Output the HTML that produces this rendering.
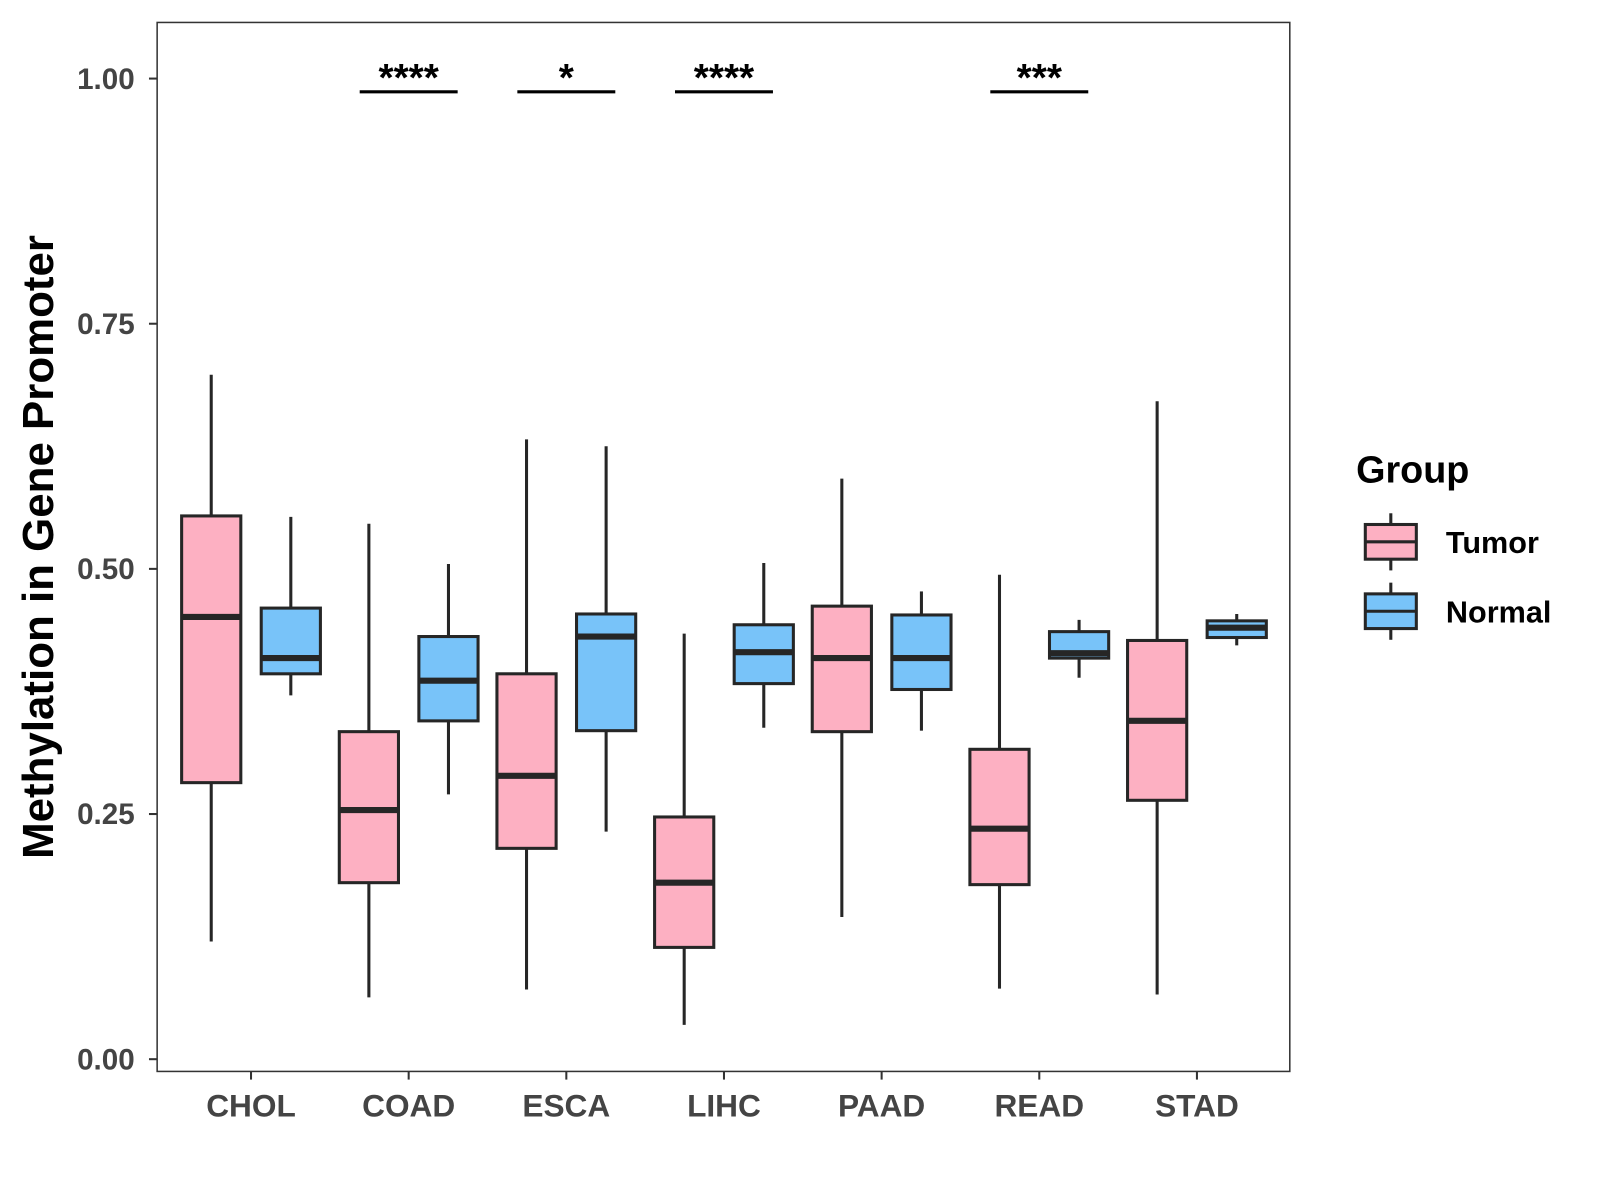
<!DOCTYPE html>
<html><head><meta charset="utf-8"><style>
html,body{margin:0;padding:0;background:#fff;}
svg{display:block;font-family:"Liberation Sans",Arial,sans-serif;}
</style></head><body>
<svg id="chart" width="1600" height="1200" viewBox="0 0 1568 1176" xmlns="http://www.w3.org/2000/svg">
<rect x="0" y="0" width="1568" height="1176" fill="#fff"/>
<g id="plot"></g>
</svg>
<script>
const categories = ["CHOL","COAD","ESCA","LIHC","PAAD","READ","STAD"];
// [min, q1, median, q3, max]
const tumorStats = [
 [0.12,0.282,0.451,0.554,0.698],
 [0.063,0.18,0.254,0.334,0.546],
 [0.071,0.215,0.289,0.393,0.632],
 [0.035,0.114,0.18,0.247,0.434],
 [0.145,0.334,0.409,0.462,0.592],
 [0.072,0.178,0.235,0.316,0.494],
 [0.066,0.264,0.345,0.427,0.671]
];
const normalStats = [
 [0.371,0.393,0.409,0.46,0.553],
 [0.27,0.345,0.386,0.431,0.505],
 [0.232,0.335,0.431,0.454,0.625],
 [0.338,0.383,0.415,0.443,0.506],
 [0.335,0.377,0.409,0.453,0.477],
 [0.389,0.409,0.414,0.436,0.448],
 [0.422,0.43,0.44,0.447,0.454]
];
const yTicks = [0,0.25,0.5,0.75,1.0];
const yTickLabels = ["0.00","0.25","0.50","0.75","1.00"];
const sigCategories = ["COAD","ESCA","LIHC","READ"];
const sigLabels = ["****","*","****","***"];

const NS="http://www.w3.org/2000/svg";
const g=document.getElementById('plot');
const L=154,R=1264,T=22,B=1050;
function yS(v){return 1038-v*961;}
function xS(i){return 246+i*154.5;}
function mk(tag,attrs,parent){const e=document.createElementNS(NS,tag);for(const k in attrs)e.setAttribute(k,attrs[k]);(parent||g).appendChild(e);return e;}

const frame=mk('rect',{x:L,y:T,width:R-L,height:B-T,fill:'none',stroke:'#333',"stroke-width":1.5});



yTicks.forEach((v,i)=>{
  const t=mk('line',{x1:L-8,x2:L,y1:yS(v),y2:yS(v),stroke:'#333',"stroke-width":2});
  
  
  const tx=mk('text',{x:L-22,y:yS(v)+10,"text-anchor":'end',"font-size":29,"font-weight":'bold',fill:'#444'});
  tx.textContent=yTickLabels[i];
  
  
});
categories.forEach((c,i)=>{
  const t=mk('line',{x1:xS(i),x2:xS(i),y1:B,y2:B+8,stroke:'#333',"stroke-width":2});
  
  
  const tx=mk('text',{x:xS(i),y:B+44,"text-anchor":'middle',"font-size":31,"font-weight":'bold',fill:'#444'});
  tx.textContent=c;
  
  
});

function box(cx,s,fill,name){
  const gg=mk('g',{});
  
  
  const hw=29;
  mk('line',{x1:cx,x2:cx,y1:yS(s[4]),y2:yS(s[3]),stroke:'#262626',"stroke-width":3},gg);
  mk('line',{x1:cx,x2:cx,y1:yS(s[1]),y2:yS(s[0]),stroke:'#262626',"stroke-width":3},gg);
  mk('rect',{x:cx-hw,y:yS(s[3]),width:2*hw,height:yS(s[1])-yS(s[3]),fill:fill,stroke:'#262626',"stroke-width":3},gg);
  mk('line',{x1:cx-hw,x2:cx+hw,y1:yS(s[2]),y2:yS(s[2]),stroke:'#262626',"stroke-width":6},gg);
}
categories.forEach((c,i)=>{
  box(xS(i)-39,tumorStats[i],'#FDB0C2','box-tumor-'+c.toLowerCase());
  box(xS(i)+39,normalStats[i],'#78C3F9','box-normal-'+c.toLowerCase());
});
sigCategories.forEach((c,k)=>{
  const i=categories.indexOf(c);
  const ln=mk('line',{x1:xS(i)-48,x2:xS(i)+48,y1:90,y2:90,stroke:'#000',"stroke-width":3});
  
  
  const tx=mk('text',{x:xS(i),y:89,"text-anchor":'middle',"font-size":38,"font-weight":'bold',fill:'#000'});
  tx.textContent=sigLabels[k];
  
  
});

const yt=mk('text',{x:52,y:536,transform:'rotate(-90 52 536)',"text-anchor":'middle',"font-size":43,"font-weight":'bold',fill:'#000'});
yt.textContent='Methylation in Gene Promoter';



const lt=mk('text',{x:1329,y:473,"font-size":37,"font-weight":'bold',fill:'#000'});
lt.textContent='Group';


[['Tumor','#FDB0C2',531],['Normal','#78C3F9',599]].forEach(([lab,col,cy])=>{
  const gg=mk('g',{});
  
  
  mk('line',{x1:1363,x2:1363,y1:cy-28,y2:cy+28,stroke:'#262626',"stroke-width":3},gg);
  mk('rect',{x:1338,y:cy-17,width:50,height:34,fill:col,stroke:'#262626',"stroke-width":3},gg);
  mk('line',{x1:1338,x2:1388,y1:cy,y2:cy,stroke:'#262626',"stroke-width":3},gg);
  const tx=mk('text',{x:1417,y:cy+11,"font-size":30,"font-weight":'bold',fill:'#000'},gg);
  tx.textContent=lab;
});
</script>
</body></html>
